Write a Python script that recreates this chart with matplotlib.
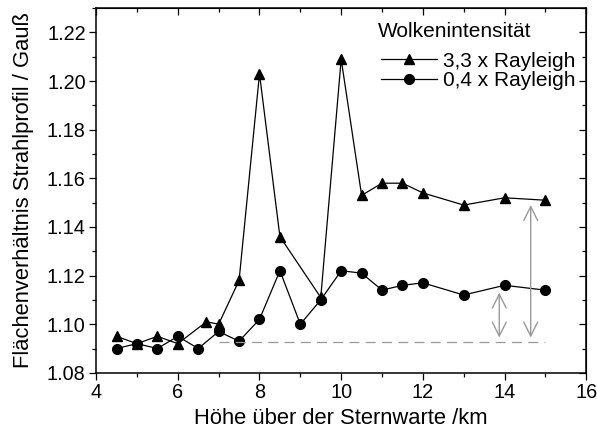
import matplotlib.pyplot as plt
from matplotlib.ticker import MultipleLocator

plt.rcParams['font.family'] = ['Liberation Sans', 'DejaVu Sans']

# data
hoehe_33 = [4.5, 5, 5.5, 6, 6.7, 7, 7.5, 8, 8.5, 9.5, 10, 10.5, 11, 11.5, 12, 13, 14, 15]
wert_33 = [1.095, 1.092, 1.095, 1.092, 1.101, 1.100, 1.118, 1.203, 1.136, 1.111,
           1.209, 1.153, 1.158, 1.158, 1.154, 1.149, 1.152, 1.151]
hoehe_04 = [4.5, 5, 5.5, 6, 6.5, 7, 7.5, 8, 8.5, 9, 9.5, 10, 10.5, 11, 11.5, 12, 13, 14, 15]
wert_04 = [1.090, 1.092, 1.090, 1.095, 1.090, 1.097, 1.093, 1.102, 1.122, 1.100, 1.110,
           1.122, 1.121, 1.114, 1.116, 1.117, 1.112, 1.116, 1.114]
basis_x = [7, 15]
basis_y = 1.0925
pfeil_x = [13.87, 14.64]
pfeil_oben = [1.113, 1.149]

fig = plt.figure(figsize=(5.97, 4.30), dpi=100)
ax = fig.add_axes([0.161, 0.133, 0.821, 0.848])

ax.plot(hoehe_33, wert_33, color='black', lw=0.9, marker='^', ms=7.5, label='3,3 x Rayleigh')
ax.plot(hoehe_04, wert_04, color='black', lw=0.9, marker='o', ms=7, label='0,4 x Rayleigh')
ax.plot(basis_x, [basis_y, basis_y], color='#999999', lw=0.9, ls=(0, (8, 5)))

for x, y in zip(pfeil_x, pfeil_oben):
    ax.annotate('', xy=(x, y), xytext=(x, basis_y + 0.002),
                arrowprops=dict(arrowstyle='<->,head_length=1.0,head_width=0.5',
                                color='#999999', lw=1.0, shrinkA=0, shrinkB=0))

ax.set_xlim(4, 16)
ax.set_ylim(1.08, 1.23)
ax.xaxis.set_major_locator(MultipleLocator(2))
ax.xaxis.set_minor_locator(MultipleLocator(1))
ax.yaxis.set_major_locator(MultipleLocator(0.02))
ax.yaxis.set_minor_locator(MultipleLocator(0.01))
ax.yaxis.set_major_formatter(lambda v, p: f'{v:.2f}')

ax.tick_params(which='both', direction='out', labelsize=14.3, top=False, right=False)
ax.tick_params(which='major', length=5, width=0.9, pad=2.5)
ax.tick_params(which='minor', length=3, width=0.9)
ax2 = ax.secondary_xaxis('top')
ax2.xaxis.set_major_locator(MultipleLocator(2))
ax2.xaxis.set_minor_locator(MultipleLocator(1))
ax2.tick_params(which='both', direction='in', labeltop=False)
ax2.tick_params(which='major', length=5, width=0.9)
ax2.tick_params(which='minor', length=3, width=0.9)
ax3 = ax.secondary_yaxis('right')
ax3.yaxis.set_major_locator(MultipleLocator(0.02))
ax3.yaxis.set_minor_locator(MultipleLocator(0.01))
ax3.tick_params(which='both', direction='in', labelright=False)
ax3.tick_params(which='major', length=5, width=0.9)
ax3.tick_params(which='minor', length=3, width=0.9)
for s in ax.spines.values():
    s.set_linewidth(1.1)

ax.set_xlabel('Höhe über der Sternwarte /km', fontsize=15.8, labelpad=4.5)
ax.set_ylabel('Flächenverhältnis Strahlprofil / Gauß', fontsize=15.8, labelpad=9)

# legend: title as its own text, entries below it
ax.text(0.5755, 0.921, 'Wolkenintensität', transform=ax.transAxes,
        ha='left', va='baseline', fontsize=15)
ax.legend(loc='upper right', bbox_to_anchor=(0.978, 0.881), frameon=False,
          fontsize=15, handlelength=2.7, handletextpad=0.29,
          borderaxespad=0, borderpad=0, labelspacing=0.03)

fig.savefig('out.png', dpi=100)
